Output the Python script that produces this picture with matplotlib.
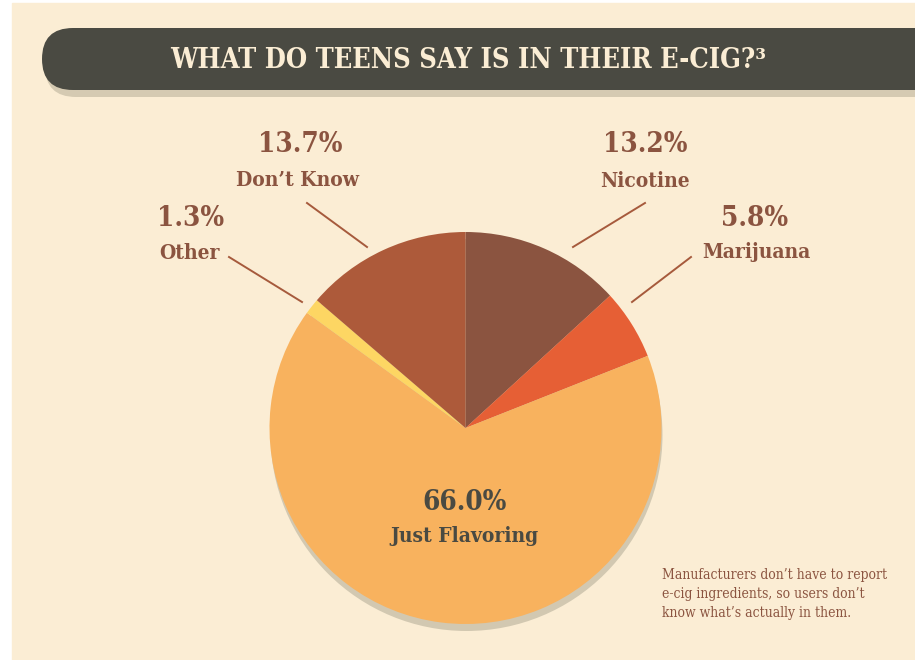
import matplotlib
matplotlib.use("Agg")
import matplotlib.pyplot as plt
from matplotlib.patches import FancyBboxPatch, Circle, Rectangle

# data
labels = ["Nicotine", "Marijuana", "Just Flavoring", "Other", "Don\u2019t Know"]
values = [13.2, 5.8, 66.0, 1.3, 13.7]
colors = ["#8B5440", "#E65F35", "#F8B25E", "#FDD663", "#AD5A3A"]

title = "WHAT DO TEENS SAY IS IN THEIR E-CIG?\u00b3"
note = ("Manufacturers don\u2019t have to report\n"
        "e-cig ingredients, so users don\u2019t\n"
        "know what\u2019s actually in them.")

W, H = 915, 660
bg = "#FBEDD4"
brown = "#8B5440"
dark = "#4A4A42"
font = dict(family="DejaVu Serif", fontstretch="condensed")

fig = plt.figure(figsize=(W / 100, H / 100), dpi=100, facecolor="white")
ax = fig.add_axes([0, 0, 1, 1])

# pixel helper, y measured from the top
def py(y):
    return H - y

cx, cy, r = 465.5, py(428), 196

# background panel
ax.add_patch(Rectangle((12, 0), W - 12, py(3), color=bg, zorder=0))

# banner + shadow
ax.add_patch(FancyBboxPatch((45, py(97)), 950, 62,
                            boxstyle="round,pad=0,rounding_size=31",
                            fc="#D5CAB2", ec="none", zorder=1))
ax.add_patch(FancyBboxPatch((42, py(90)), 950, 62,
                            boxstyle="round,pad=0,rounding_size=31",
                            fc=dark, ec="none", zorder=2))
ax.text(468, py(60), title, ha="center", va="center", color=bg,
        fontsize=19.5, fontweight="bold", zorder=3, **font)

# pie shadow + pie
ax.add_patch(Circle((cx + 1, cy - 7), r, fc="#D2C8B1", ec="none", zorder=1))
ax.pie(values, colors=colors, startangle=90, counterclock=False,
       center=(cx, cy), radius=r, frame=True,
       wedgeprops=dict(linewidth=0, zorder=2))

tkw = dict(ha="center", va="center", fontweight="bold", zorder=4, **font)

# outside labels: index, pct pos, name pos, leader line ends
outside = [
    (4, (300, 145), (298, 180), (307, 203), (367, 247)),
    (3, (191, 218), (190, 253), (229, 257), (302, 302)),
    (0, (645, 145), (645, 181), (645, 203), (573, 247)),
    (1, (755, 218), (756, 252), (691, 257), (632, 302)),
]
for i, p1, p2, a, b in outside:
    ax.text(p1[0], py(p1[1]), f"{values[i]:.1f}%", color=brown,
            fontsize=20, **tkw)
    ax.text(p2[0], py(p2[1]), labels[i], color=brown, fontsize=15, **tkw)
    ax.plot([a[0], b[0]], [py(a[1]), py(b[1])], color="#A65A3C",
            lw=1.4, zorder=3)

# label inside the big slice
ax.text(465, py(502), f"{values[2]:.1f}%", color=dark, fontsize=20, **tkw)
ax.text(464, py(536), labels[2], color=dark, fontsize=15, **tkw)

ax.text(662, py(594), note, ha="left", va="center", color=brown,
        fontsize=10, linespacing=1.5, zorder=4, **font)

ax.set_xlim(0, W)
ax.set_ylim(0, H)
ax.set_aspect("equal")
ax.axis("off")

fig.savefig("out.png", dpi=100, facecolor="white")
